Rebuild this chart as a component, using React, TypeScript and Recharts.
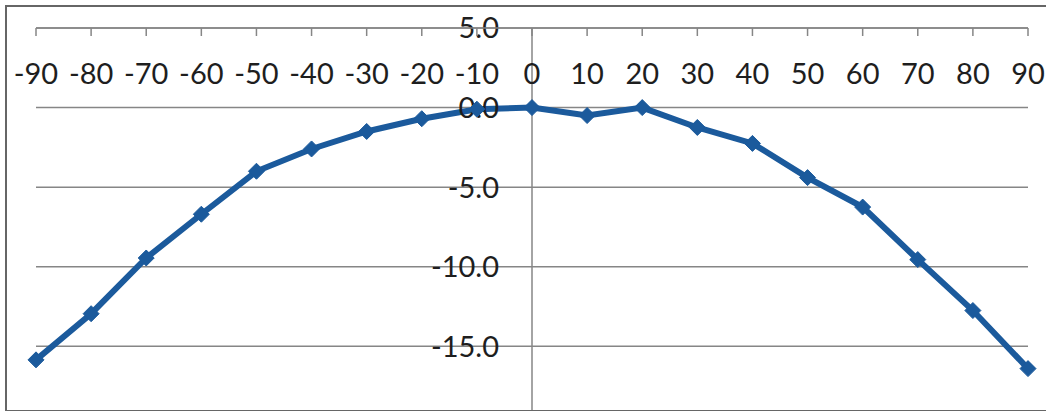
import { LineChart, Line, XAxis, YAxis, ReferenceLine } from 'recharts';

// angle (deg) on the category axis
const angles = [-90, -80, -70, -60, -50, -40, -30, -20, -10, 0, 10, 20, 30, 40, 50, 60, 70, 80, 90];
// values
const gain = [-15.85, -12.95, -9.45, -6.7, -4.0, -2.6, -1.5, -0.7, -0.1, 0.0, -0.5, 0.0, -1.25, -2.25, -4.4, -6.25, -9.55, -12.75, -16.4];
const yTicks = [5, 0, -5, -10, -15];

const data = angles.map((a, i) => ({ angle: a, value: gain[i] }));

const LINE = '#1b5a9c';
const GRID = '#868686';
const TEXT = '#1e1e1e';
const FONT = 'Lato, "Open Sans", sans-serif';

function Diamond(props: any) {
  const { cx, cy, index } = props;
  if (cx == null || cy == null) return null;
  const r = 8;
  return (
    <path
      key={`dot-${index}`}
      d={`M${cx},${cy - r}L${cx + r},${cy}L${cx},${cy + r}L${cx - r},${cy}Z`}
      fill={LINE}
      stroke={LINE}
      strokeWidth={1}
    />
  );
}

// y labels sit just left of the vertical axis, which crosses at angle 0 (middle of the plot)
const yLabel = (v: number) => (props: any) => {
  const { viewBox } = props;
  const x = viewBox.x + viewBox.width / 2 - 33;
  return (
    <text x={x} y={viewBox.y} dy="0.36em" textAnchor="end" fontSize={29} fontFamily={FONT} fill={TEXT}>
      {v.toFixed(1)}
    </text>
  );
};

export default function App() {
  return (
    <div style={{ position: 'absolute', left: 0, top: 0, width: 1046, height: 411, overflow: 'hidden', background: '#fff' }}>
      <div
        style={{
          position: 'absolute',
          left: 5,
          top: 5,
          width: 1100,
          height: 403,
          border: '2px solid #666',
          borderRight: 'none',
        }}
      />
      <div style={{ position: 'absolute', left: 0, top: 0 }}>
        <LineChart width={1046} height={411} data={data} margin={{ top: 28, right: 18, bottom: 1, left: 36 }}>
          <XAxis
            dataKey="angle"
            orientation="top"
            mirror
            interval={0}
            axisLine={{ stroke: GRID, strokeWidth: 1.5 }}
            tickLine={{ stroke: GRID, strokeWidth: 1.5 }}
            tickSize={8}
            tickMargin={27}
            tick={{ fontSize: 29, fontFamily: FONT, fill: TEXT }}
          />
          <YAxis hide domain={[-19, 5]} ticks={yTicks} />
          {yTicks.map((v) => (
            <ReferenceLine key={v} y={v} stroke={GRID} strokeWidth={1.5} />
          ))}
          <ReferenceLine x={0} stroke={GRID} strokeWidth={1.5} />
          <Line
            type="linear"
            dataKey="value"
            stroke={LINE}
            strokeWidth={6}
            dot={Diamond}
            activeDot={false}
            isAnimationActive={false}
          />
          {yTicks.map((v) => (
            <ReferenceLine key={`l${v}`} y={v} stroke="none" label={yLabel(v)} />
          ))}
        </LineChart>
      </div>
    </div>
  );
}
